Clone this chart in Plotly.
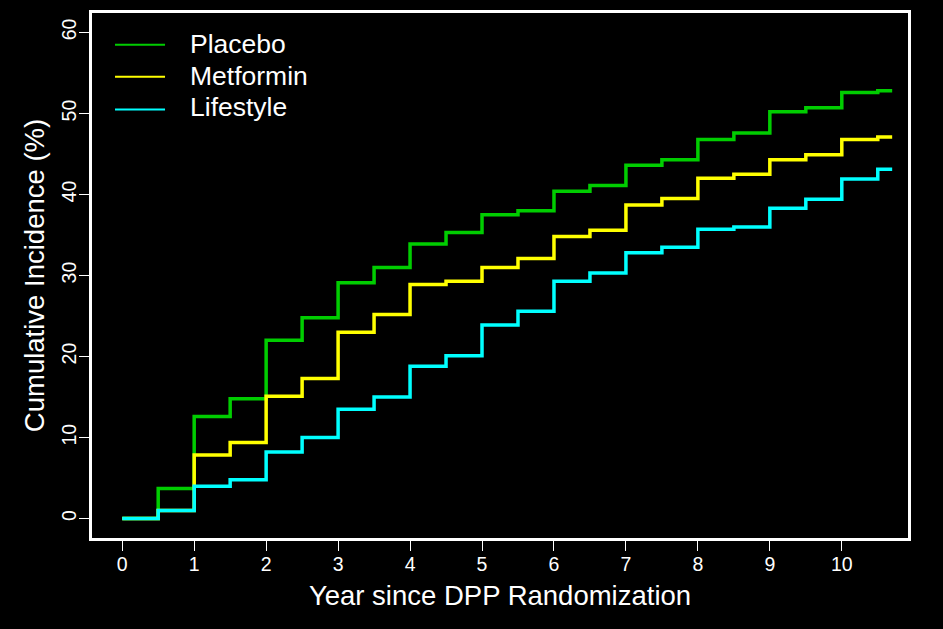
import plotly.graph_objects as go

years = [0, 0.5, 1, 1.5, 2, 2.5, 3, 3.5, 4, 4.5, 5, 5.5, 6, 6.5, 7, 7.5, 8, 8.5, 9, 9.5, 10, 10.5, 10.7]
placebo = [0, 3.7, 12.6, 14.8, 22.0, 24.8, 29.1, 31.0, 33.9, 35.3, 37.5, 38.0, 40.4, 41.1, 43.6, 44.3,
           46.8, 47.6, 50.2, 50.7, 52.6, 52.8, 52.8]
metformin = [0, 1.0, 7.85, 9.4, 15.1, 17.3, 23.0, 25.2, 28.9, 29.3, 31.0, 32.1, 34.8, 35.6, 38.7, 39.5,
             42.0, 42.5, 44.3, 44.9, 46.8, 47.1, 47.1]
lifestyle = [0, 1.0, 4.0, 4.8, 8.2, 10.0, 13.5, 15.0, 18.8, 20.1, 23.9, 25.6, 29.3, 30.3, 32.8, 33.5,
             35.7, 36.0, 38.3, 39.4, 41.9, 43.1, 43.1]

series_names = ["Placebo", "Metformin", "Lifestyle"]
series_colors = ["#00CD00", "#FFFF00", "#00FFFF"]
x_ticks = list(range(0, 11))
y_ticks = [0, 10, 20, 30, 40, 50, 60]

FONT = "Liberation Sans, Arial, Helvetica, sans-serif"

fig = go.Figure()
for name, vals, col in zip(series_names, [placebo, metformin, lifestyle], series_colors):
    fig.add_trace(go.Scatter(
        x=years, y=vals, mode="lines", name=name, showlegend=False,
        line=dict(color=col, width=3.5, shape="hv"),
    ))

# legend drawn in paper coordinates (line sample + label)
leg_line_y = [0.9394, 0.8788, 0.8163]
leg_text_y = [0.9413, 0.8807, 0.8201]
for name, col, ly, ty in zip(series_names, series_colors, leg_line_y, leg_text_y):
    fig.add_shape(type="line", xref="paper", yref="paper",
                  x0=0.0282, x1=0.0895, y0=ly, y1=ly,
                  line=dict(color=col, width=2))
    fig.add_annotation(xref="paper", yref="paper", x=0.1176, y=ty,
                       xanchor="left", yanchor="middle", showarrow=False,
                       text=name, font=dict(size=26.5, color="white", family=FONT))

fig.update_layout(
    width=943, height=629,
    margin=dict(l=92, r=35, t=10, b=91),
    paper_bgcolor="black", plot_bgcolor="black",
    font=dict(family=FONT, color="white", size=19.5),
    showlegend=False,
)
fig.update_xaxes(
    range=[-0.42, 10.92], tickvals=x_ticks, ticktext=[str(v) for v in x_ticks],
    showgrid=False, zeroline=False,
    showline=True, mirror=True, linecolor="white", linewidth=3,
    ticks="outside", ticklen=10, tickcolor="white", tickwidth=1,
    ticklabelstandoff=-3,
    tickfont=dict(size=19.5, color="white"),
    title=dict(text="Year since DPP Randomization", font=dict(size=27.5, color="white"), standoff=12),
)
fig.update_yaxes(
    range=[-2.4, 62.4], tickvals=y_ticks, ticktext=[str(v) for v in y_ticks],
    showgrid=False, zeroline=False,
    showline=True, mirror=True, linecolor="white", linewidth=3,
    ticks="outside", ticklen=10, tickcolor="white", tickwidth=1,
    tickangle=-90, ticklabelstandoff=-5,
    tickfont=dict(size=19.5, color="white"),
    title=dict(text="Cumulative Incidence (%)", font=dict(size=27.5, color="white"), standoff=6),
)

fig.write_html("out.html")
